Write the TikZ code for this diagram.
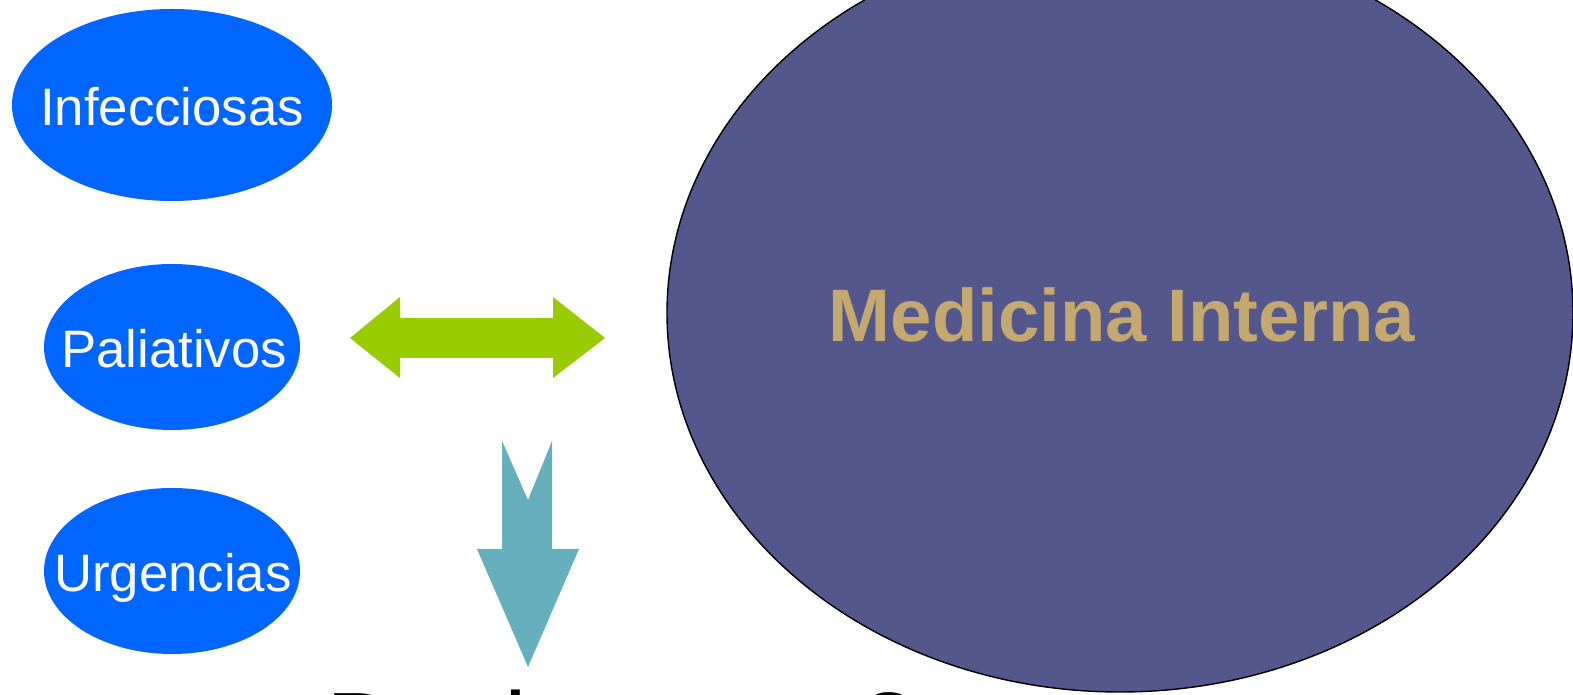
\documentclass[tikz,border=0pt]{standalone}
\usepackage{fontspec}
\setmainfont{Liberation Sans}
\usetikzlibrary{positioning}
\definecolor{espblue}{RGB}{0,102,255}
\definecolor{mipurple}{RGB}{84,87,139}
\definecolor{mitan}{RGB}{196,168,112}
\definecolor{arrowgreen}{RGB}{153,204,0}
\definecolor{arrowteal}{RGB}{102,176,190}
\tikzset{
  esptext/.style={text=white, anchor=base, inner sep=0pt, font=\fontsize{30}{36}\selectfont},
  mitext/.style={text=mitan, anchor=base, inner sep=0pt, font=\fontsize{42.3}{50}\selectfont\bfseries},
  bottomtext/.style={text=black, anchor=base west, inner sep=0pt, font=\fontsize{57}{68}\selectfont}
}

\begin{document}
\begin{tikzpicture}[x=0.02cm, y=-0.02cm]
\useasboundingbox (0,0) rectangle (1573,695);
\clip (0,0) rectangle (1573,695);

% specialties
\fill [espblue] (172,105) ellipse [x radius=160, y radius=96];
\fill [espblue] (172,347) ellipse [x radius=128, y radius=83];
\fill [espblue] (172,571) ellipse [x radius=128, y radius=83];
\node [esptext] (infec) at (172,126) {Infecciosas};
\node [esptext] (palia) at (174,368) {Paliativos};
\node [esptext] (urgen) at (173,592) {Urgencias};

% arrows
\fill [arrowgreen] (350,338) -- (400,297) -- (400,318) -- (553,318) -- (553,297) -- (605,338) -- (553,378) -- (553,358) -- (400,358) -- (400,378) -- cycle;
\fill [arrowteal] (502,441) -- (528,500) -- (552,441) -- (552,549) -- (579,549) -- (528,667) -- (477,549) -- (502,549) -- cycle;

%\draw [help lines, step=50](0,0) grid (1573,695);
\node [bottomtext] (desh) at (326,763) {Deshacerse?};

% big one
\filldraw [fill=mipurple, draw=black, line width=0.8pt] (1120,313) ellipse [x radius=453, y radius=379];
\node [mitext] (medint) at (1122,342) {Medicina Interna};

\end{tikzpicture}
\end{document}
